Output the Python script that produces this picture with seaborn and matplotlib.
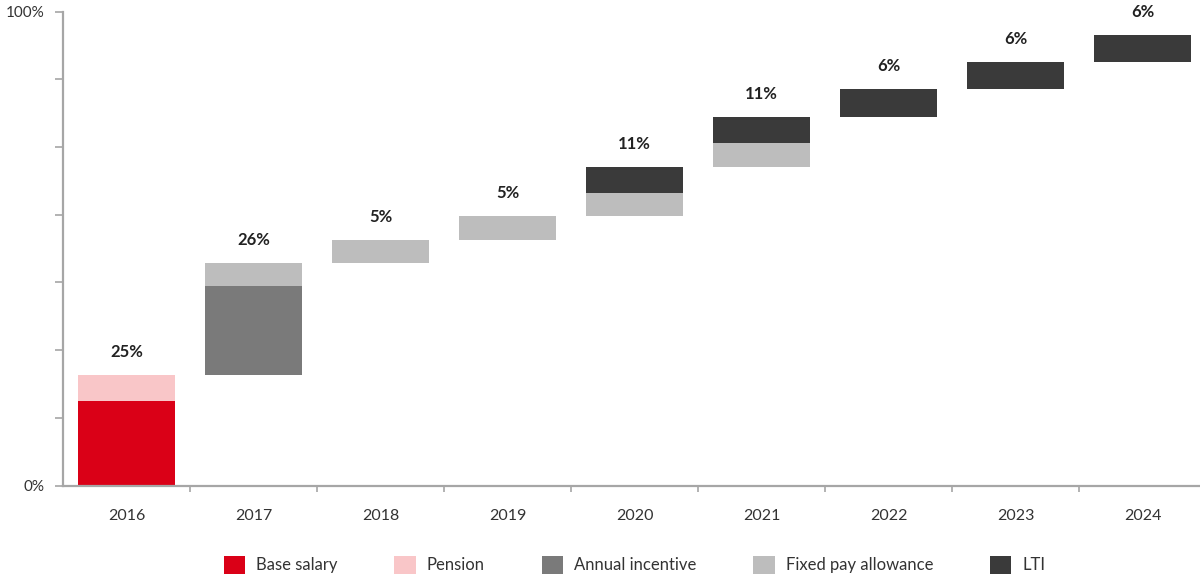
import numpy as np
import pandas as pd
import matplotlib
matplotlib.use("Agg")
import matplotlib.pyplot as plt
from matplotlib.patches import Patch
import seaborn as sns

# =====================
# DATA (percent of max)
# =====================
years = ["2016", "2017", "2018", "2019", "2020", "2021", "2022", "2023", "2024"]
base_salary      = [17.9, 0, 0, 0, 0, 0, 0, 0, 0]
pension          = [5.4, 0, 0, 0, 0, 0, 0, 0, 0]
annual_incentive = [0, 18.9, 0, 0, 0, 0, 0, 0, 0]
fixed_pay        = [0, 4.8, 4.8, 5.1, 4.8, 4.9, 0, 0, 0]
lti              = [0, 0, 0, 0, 5.6, 5.6, 5.8, 5.7, 5.7]
step_labels = ["25%", "26%", "5%", "5%", "11%", "11%", "6%", "6%", "6%"]

components = ["Base salary", "Pension", "Annual incentive", "Fixed pay allowance", "LTI"]
colors = ["#DA0017", "#F9C6C8", "#7A7A7A", "#BDBDBD", "#3A3A3A"]

# waterfall: each year starts where the previous one ended
seg = np.array([base_salary, pension, annual_incentive, fixed_pay, lti])
step = seg.sum(axis=0)
offset = np.concatenate([[0], np.cumsum(step)[:-1]])
tops = offset + np.cumsum(seg, axis=0)   # cumulative top of each layer

df = pd.DataFrame({"year": years, "offset": offset})
for i, name in enumerate(components):
    df[name] = tops[i]

# =====================
# PLOT
# =====================
sns.set_style("white")
plt.rcParams["font.family"] = ["Lato", "DejaVu Sans"]
txt = "#333333"
grey = "#A6A6A6"

fig = plt.figure(figsize=(12, 5.81), dpi=100)
ax = fig.add_axes([63 / 1200, 95.5 / 581, 1143 / 1200, 473.8 / 581])

# draw from the top layer down, then blank out the floating part
for name, c in reversed(list(zip(components, colors))):
    sns.barplot(data=df, x="year", y=name, color=c, width=0.765,
                linewidth=0, saturation=1, ax=ax)
sns.barplot(data=df, x="year", y="offset", color="white", width=0.78,
            linewidth=0, saturation=1, ax=ax)

for i, lab in enumerate(step_labels):
    ax.annotate(lab, (i, tops[-1][i]), xytext=(0, 16.5), textcoords="offset points",
                ha="center", va="center", fontsize=12, fontweight="bold", color="#222222")

ax.set_xlim(-0.5, 8.5)
ax.set_ylim(0, 100)
ax.set_xlabel("")
ax.set_ylabel("")

yt = np.linspace(0, 100, 8)
ax.set_yticks(yt)
ax.set_yticklabels(["0%"] + [""] * 6 + ["100%"])
ax.set_xticks(range(len(years)))
ax.set_xticklabels(years)
ax.set_xticks(np.arange(0.5, 8.5, 1), minor=True)

ax.tick_params(axis="y", left=True, length=6, width=1.2, color=grey, pad=7,
               labelsize=11, labelcolor=txt)
ax.tick_params(axis="x", which="major", bottom=True, length=0, pad=17,
               labelsize=11.5, labelcolor=txt)
ax.tick_params(axis="x", which="minor", bottom=True, length=4, width=1.2,
               color=grey, direction="out")

sns.despine(ax=ax)
for s in ["left", "bottom"]:
    ax.spines[s].set_color(grey)
    ax.spines[s].set_linewidth(1.6)

handles = [Patch(facecolor=c, edgecolor="none", label=n) for n, c in zip(components, colors)]
leg = ax.legend(handles=handles, loc="center", bbox_to_anchor=(0.5, -0.167),
                ncol=5, frameon=False, fontsize=12, handlelength=1.3, handleheight=1.3,
                handletextpad=0.65, columnspacing=3.4)
for t in leg.get_texts():
    t.set_color(txt)

fig.savefig("out.png", dpi=100)
